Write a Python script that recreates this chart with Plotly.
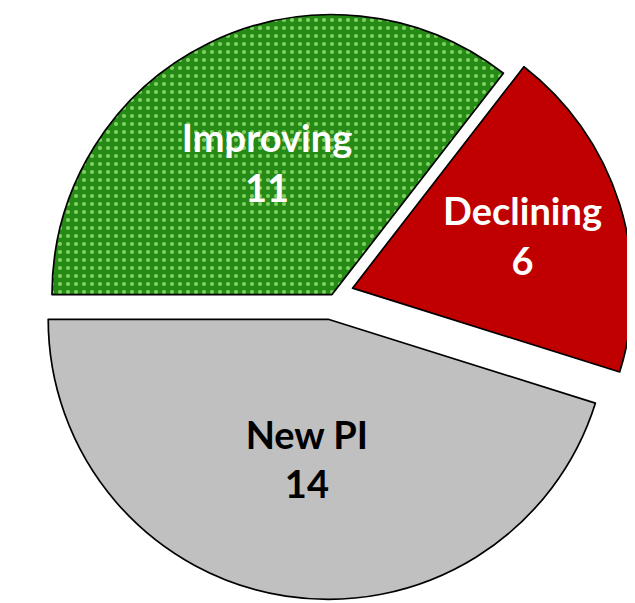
import numpy as np
import plotly.graph_objects as go

# ---- data ----
labels = ["Improving", "Declining", "New PI"]
values = [11, 6, 14]

# ---- styles ----
slice_colors = ["#268a16", "#c00000", "#c0c0c0"]
pattern_shapes = [".", "", ""]
pattern_fg = ["#7fd25e", "#c00000", "#c0c0c0"]
text_colors = ["white", "white", "black"]
pull_px = [0.0, 21.5, 25.0]      # how far each slice is pulled out (px)

W, H = 627, 595                  # figure size
R = 280                          # pie radius (px)
CX, CY = 324.0, 286.6            # pie centre before pulling (px)
START = 270                      # first slice starts at 9 o'clock

total = float(sum(values))
cum = np.cumsum([0] + values)
mid_angles = START + 360.0 * (cum[:-1] + np.array(values) / 2.0) / total

fig = go.Figure()
n = len(values)
for i in range(n):
    th = np.deg2rad(mid_angles[i])
    cx = CX + pull_px[i] * np.sin(th)
    cy = CY - pull_px[i] * np.cos(th)
    dom_x = [max(0.0, (cx - R) / W), min(1.0, (cx + R) / W)]
    dom_y = [max(0.0, 1 - (cy + R) / H), min(1.0, 1 - (cy - R) / H)]
    show = [j == i for j in range(n)]
    fig.add_trace(
        go.Pie(
            labels=labels,
            values=values,
            sort=False,
            direction="clockwise",
            rotation=START,
            domain=dict(x=dom_x, y=dom_y),
            marker=dict(
                colors=[slice_colors[j] if show[j] else "rgba(0,0,0,0)" for j in range(n)],
                line=dict(color="black", width=[1.7 if s else 0 for s in show]),
                pattern=dict(
                    shape=[pattern_shapes[j] if show[j] else "" for j in range(n)],
                    fgcolor=[pattern_fg[j] if show[j] else "rgba(0,0,0,0)" for j in range(n)],
                    bgcolor=[slice_colors[j] if show[j] else "rgba(0,0,0,0)" for j in range(n)],
                    size=8,
                    solidity=0.22,
                ),
            ),
            texttemplate=["%{label}<br>%{value}" if s else "" for s in show],
            textposition="inside",
            insidetextorientation="horizontal",
            textfont=dict(family="Lato", size=38, color=text_colors, weight="bold"),
            hoverinfo="skip",
            showlegend=False,
            name=labels[i],
        )
    )

fig.update_layout(
    width=W,
    height=H,
    autosize=False,
    margin=dict(l=0, r=0, t=0, b=0),
    paper_bgcolor="white",
    plot_bgcolor="white",
)

fig.write_html("out.html")
